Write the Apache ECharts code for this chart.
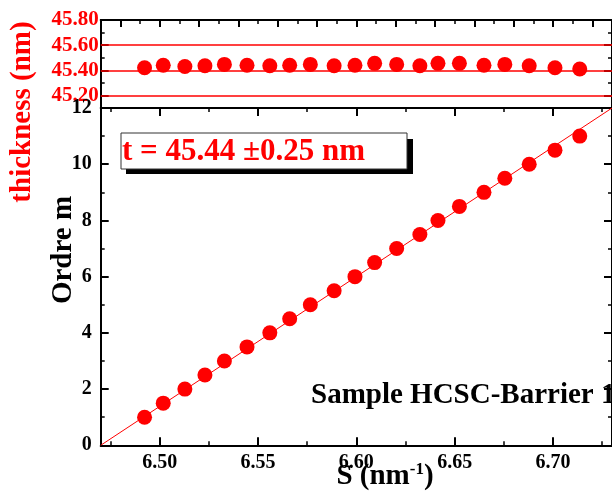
<!DOCTYPE html>
<html><head><meta charset="utf-8">
<script src="https://cdn.jsdelivr.net/npm/echarts@6/dist/echarts.min.js"></script>
<style>html,body{margin:0;padding:0;background:#fff;overflow:hidden}#c{width:612px;height:493px}</style>
</head><body><div id="c"></div>
<script>
// ---- data ----
const sValues = [6.4923, 6.5018, 6.5128, 6.5230, 6.5329, 6.5444, 6.5560, 6.5661, 6.5766, 6.5887, 6.5993,
                 6.6093, 6.6205, 6.6323, 6.6415, 6.6524, 6.6649, 6.6755, 6.6879, 6.7010, 6.7136];
const orderM = [1, 1.5, 2, 2.5, 3, 3.5, 4, 4.5, 5, 5.5, 6, 6.5, 7, 7.5, 8, 8.5, 9, 9.5, 10, 10.5, 11];
const thickness = [45.42, 45.44, 45.43, 45.436, 45.447, 45.44, 45.436, 45.44, 45.447, 45.436, 45.44,
                   45.455, 45.447, 45.436, 45.455, 45.455, 45.44, 45.447, 45.436, 45.42, 45.41];
const fitS = [6.47, 6.73];
const fitM = [0, 12];
const sRange = [6.47, 6.73];
const mRange = [0, 12];
const tRange = [45.1, 45.8];
const thicknessGridLines = [45.2, 45.4, 45.6];
const annotationText = 't = 45.44 \u00b10.25 nm';
const sampleText = 'Sample HCSC-Barrier 1';

// ---- styling ----
const F = "'Liberation Serif', 'Times New Roman', serif";
const RED = '#ff0000';
const BLACK = '#000000';
const GL = 100.7, GW = 517, TOP0 = 20, H0 = 88, TOP1 = 108, H1 = 337.3;

const line = { show: true, onZero: false, lineStyle: { color: BLACK, width: 2 } };
function ticks(len) { return { show: true, inside: true, length: len, lineStyle: { color: BLACK, width: 2 } }; }
function minor(len) { return { show: true, splitNumber: 2, length: len, lineStyle: { color: BLACK, width: 1.5 } }; }

const chart = echarts.init(document.getElementById('c'), null, { renderer: 'canvas' });
chart.setOption({
  animation: false,
  backgroundColor: '#fff',
  grid: [
    { left: GL, top: TOP0, width: GW, height: H0 },
    { left: GL, top: TOP1, width: GW, height: H1 }
  ],
  xAxis: [
    { gridIndex: 0, type: 'value', position: 'top', min: sRange[0], max: sRange[1], splitNumber: 13,
      axisLine: line, axisTick: ticks(7), minorTick: minor(4), axisLabel: { show: false },
      splitLine: { show: false }, minorSplitLine: { show: false } },
    { gridIndex: 1, type: 'value', position: 'bottom', min: sRange[0], max: sRange[1], splitNumber: 5,
      axisLine: line, axisTick: ticks(8), minorTick: minor(4), splitLine: { show: false }, minorSplitLine: { show: false },
      axisLabel: { show: true, color: BLACK, fontFamily: F, fontWeight: 'bold', fontSize: 20, margin: 8,
                   showMinLabel: false, showMaxLabel: false, formatter: v => v.toFixed(2) } },
    { gridIndex: 1, type: 'value', position: 'top', min: sRange[0], max: sRange[1], splitNumber: 5,
      axisLine: line, axisTick: ticks(8), minorTick: minor(4), axisLabel: { show: false },
      splitLine: { show: false }, minorSplitLine: { show: false } }
  ],
  yAxis: [
    { gridIndex: 0, type: 'value', position: 'left', min: tRange[0], max: tRange[1], splitNumber: 4,
      axisLine: line, axisTick: ticks(8), minorTick: minor(4),
      splitLine: { show: false }, minorSplitLine: { show: false },
      axisLabel: { show: true, color: RED, fontFamily: F, fontWeight: 'bold', fontSize: 21, margin: 2,
                   showMinLabel: false, formatter: v => v.toFixed(2) } },
    { gridIndex: 0, type: 'value', position: 'right', min: tRange[0], max: tRange[1], splitNumber: 4,
      axisLine: line, axisTick: ticks(8), minorTick: minor(4), axisLabel: { show: false },
      splitLine: { show: false }, minorSplitLine: { show: false } },
    { gridIndex: 1, type: 'value', position: 'left', min: mRange[0], max: mRange[1], splitNumber: 6,
      axisLine: line, axisTick: ticks(8), minorTick: minor(4), splitLine: { show: false }, minorSplitLine: { show: false },
      axisLabel: { show: true, color: BLACK, fontFamily: F, fontWeight: 'bold', fontSize: 20, margin: 9 } },
    { gridIndex: 1, type: 'value', position: 'right', min: mRange[0], max: mRange[1], splitNumber: 6,
      axisLine: line, axisTick: ticks(8), minorTick: minor(4), axisLabel: { show: false },
      splitLine: { show: false }, minorSplitLine: { show: false } }
  ],
  series: [
    { type: 'scatter', xAxisIndex: 0, yAxisIndex: 0, symbol: 'circle', symbolSize: 15,
      itemStyle: { color: RED, opacity: 1 }, data: sValues.map((s, i) => [s, thickness[i]]), z: 3,
      markLine: { silent: true, symbol: 'none', animation: false, label: { show: false }, z: 2,
                  lineStyle: { color: RED, width: 1.5, type: 'solid', opacity: 1 },
                  emphasis: { disabled: true },
                  data: thicknessGridLines.map(v => ({ yAxis: v, lineStyle: { color: RED, width: 1.5, type: 'solid' } })) } },
    { type: 'line', xAxisIndex: 1, yAxisIndex: 2, showSymbol: false, symbol: 'none',
      lineStyle: { color: RED, width: 1 }, data: fitS.map((s, i) => [s, fitM[i]]), z: 2 },
    { type: 'scatter', xAxisIndex: 1, yAxisIndex: 2, symbol: 'circle', symbolSize: 15,
      itemStyle: { color: RED, opacity: 1 }, data: sValues.map((s, i) => [s, orderM[i]]), z: 3 }
  ],
  graphic: [
    { type: 'text', x: 23, y: 112, rotation: Math.PI / 2,
      style: { text: 'thickness (nm)', fill: RED, fontFamily: F, fontWeight: 'bold', fontSize: 29,
               align: 'center', verticalAlign: 'middle', textAlign: 'center', textVerticalAlign: 'middle' } },
    { type: 'text', x: 64, y: 250, rotation: Math.PI / 2,
      style: { text: 'Ordre m', fill: BLACK, fontFamily: F, fontWeight: 'bold', fontSize: 29,
               align: 'center', verticalAlign: 'middle', textAlign: 'center', textVerticalAlign: 'middle' } },
    { type: 'text', x: 385, y: 477,
      style: { text: '{a|S (nm}{b|-1}{a|)}', align: 'center', verticalAlign: 'middle',
               textAlign: 'center', textVerticalAlign: 'middle',
               rich: { a: { fill: BLACK, color: BLACK, fontFamily: F, fontWeight: 'bold', fontSize: 29, lineHeight: 32 },
                       b: { fill: BLACK, color: BLACK, fontFamily: F, fontWeight: 'bold', fontSize: 17, verticalAlign: 'top', lineHeight: 20 } } } },
    { type: 'rect', shape: { x: 126, y: 139, width: 287, height: 35 }, style: { fill: BLACK } },
    { type: 'rect', shape: { x: 121, y: 133, width: 286, height: 36 }, style: { fill: '#fff', stroke: '#333', lineWidth: 1 } },
    { type: 'text', x: 122, y: 152,
      style: { text: annotationText, fill: RED, fontFamily: F, fontWeight: 'bold', fontSize: 31,
               align: 'left', verticalAlign: 'middle', textAlign: 'left', textVerticalAlign: 'middle' } },
    { type: 'text', x: 311, y: 396,
      style: { text: sampleText, fill: BLACK, fontFamily: F, fontWeight: 'bold', fontSize: 29,
               align: 'left', verticalAlign: 'middle', textAlign: 'left', textVerticalAlign: 'middle' } }
  ]
});
</script>
</body></html>
